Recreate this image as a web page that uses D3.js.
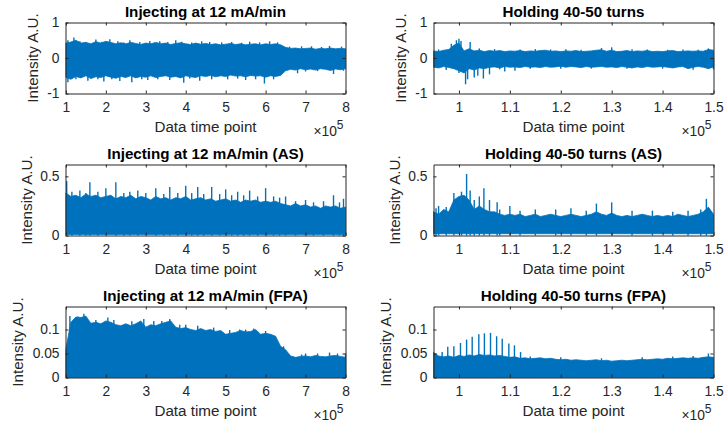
<!DOCTYPE html>
<html>
<head>
<meta charset="utf-8">
<script src="https://cdn.jsdelivr.net/npm/d3@7"></script>
<style>
  body { margin: 0; background: #fff; }
  svg { display: block; }
</style>
</head>
<body>
<svg id="chart" width="725" height="425"></svg>
<script>
// x values are in units of 1e5 data time points (as MATLAB shows them)
const injTicks = [1, 2, 3, 4, 5, 6, 7, 8];
const holdTicks = [1, 1.1, 1.2, 1.3, 1.4, 1.5];
const rawTicks = [-1, 0, 1];
const asTicks = [0, 0.5];
const fpaTicks = [0, 0.05, 0.1];

// envelope of the dense signal, injection panels sampled every 0.125, holding every 0.01
const injRawUpper = [0.42,0.45,0.5,0.42,0.44,0.4,0.46,0.42,0.47,0.44,
  0.4,0.43,0.4,0.44,0.41,0.38,0.42,0.4,0.44,0.4,
  0.42,0.38,0.41,0.43,0.4,0.38,0.42,0.39,0.41,0.38,
  0.4,0.37,0.39,0.41,0.38,0.4,0.37,0.39,0.4,0.37,
  0.4,0.38,0.4,0.37,0.3,0.27,0.28,0.26,0.27,0.28,
  0.25,0.27,0.26,0.28,0.26,0.27,0.26];
const injRawLower = [-0.55,-0.6,-0.52,-0.56,-0.5,-0.58,-0.53,-0.55,-0.5,-0.54,
  -0.57,-0.52,-0.55,-0.5,-0.56,-0.52,-0.54,-0.5,-0.55,-0.52,
  -0.5,-0.54,-0.52,-0.56,-0.5,-0.53,-0.55,-0.5,-0.52,-0.49,
  -0.53,-0.5,-0.52,-0.48,-0.51,-0.5,-0.53,-0.49,-0.51,-0.5,
  -0.54,-0.5,-0.52,-0.49,-0.36,-0.32,-0.34,-0.3,-0.33,-0.31,
  -0.34,-0.3,-0.32,-0.35,-0.31,-0.33,-0.3];
const injRawSpikes = [[1.2,0.58],[1.05,0.5],[1.75,0.52],[2.1,0.53],[2.6,0.5],[3.1,0.48],[3.75,0.5],
  [4.4,0.47],[5.6,0.46],[6.1,0.47],[6.9,0.33],[7.6,0.34],
  [1.35,0.47],[1.5,0.45],[1.9,0.46],[2.3,0.47],[2.45,0.44],[2.85,0.45],[3.35,0.47],[3.55,0.45],
  [3.9,0.46],[4.15,0.44],[4.6,0.45],[4.9,0.44],[5.15,0.45],[5.4,0.43],[5.85,0.44],[6.3,0.44],
  [6.6,0.32],[7.15,0.33],[7.4,0.31],[7.9,0.32],
  [1.05,-0.68],[1.55,-0.64],[1.95,-0.66],[2.35,-0.65],[2.65,-0.68],[3.05,-0.62],[3.95,-0.7],
  [4.35,-0.64],[5.05,-0.6],[5.5,-0.62],[5.97,-0.72],[6.8,-0.43],[7.7,-0.45],
  [1.25,-0.6],[1.8,-0.6],[2.15,-0.6],[2.9,-0.6],[3.3,-0.6],[3.6,-0.62],[4.1,-0.58],[4.65,-0.6],
  [5.3,-0.58],[5.75,-0.6],[6.2,-0.6],[7.0,-0.38],[7.3,-0.37],[7.95,-0.36]];

const holdRawUpper = [0.2,0.18,0.22,0.24,0.36,0.42,0.2,0.26,0.2,0.22,
  0.18,0.21,0.19,0.21,0.18,0.2,0.19,0.21,0.18,0.2,
  0.19,0.21,0.22,0.19,0.2,0.18,0.2,0.19,0.21,0.18,
  0.19,0.2,0.22,0.23,0.19,0.22,0.18,0.19,0.21,0.18,
  0.2,0.19,0.21,0.18,0.19,0.18,0.2,0.21,0.18,0.19,
  0.2,0.19,0.2,0.19,0.24,0.22];
const holdRawLower = [-0.26,-0.28,-0.24,-0.27,-0.3,-0.36,-0.42,-0.3,-0.34,-0.28,
  -0.3,-0.26,-0.25,-0.28,-0.24,-0.26,-0.25,-0.27,-0.24,-0.26,
  -0.25,-0.27,-0.24,-0.26,-0.25,-0.23,-0.26,-0.24,-0.25,-0.27,
  -0.24,-0.26,-0.25,-0.24,-0.26,-0.25,-0.27,-0.24,-0.26,-0.28,
  -0.25,-0.27,-0.24,-0.26,-0.25,-0.24,-0.26,-0.28,-0.25,-0.24,
  -0.3,-0.26,-0.24,-0.26,-0.3,-0.25];
const holdRawSpikes = [[0.985,0.4],[0.995,0.5],[1.0,0.54],[1.004,0.48],[1.022,0.45],[1.28,0.28],
  [1.3,0.3],[1.49,0.27],
  [0.96,0.24],[1.04,0.27],[1.07,0.25],[1.12,0.24],[1.15,0.25],[1.18,0.24],[1.21,0.25],
  [1.24,0.23],[1.34,0.25],[1.37,0.24],[1.41,0.23],[1.44,0.24],[1.47,0.23],
  [1.013,-0.74],[1.017,-0.6],[1.03,-0.55],[1.037,-0.5],[1.048,-0.58],
  [1.06,-0.46],[1.09,-0.38],[1.11,-0.36],[0.975,-0.34],
  [1.0,-0.42],[1.08,-0.32],[1.14,-0.3],[1.2,-0.3],[1.26,-0.3],[1.33,-0.3],[1.4,-0.3],
  [1.46,-0.33],[1.5,-0.32]];

const injAsUpper = [0.36,0.33,0.34,0.32,0.35,0.33,0.34,0.32,0.33,0.34,
  0.31,0.33,0.32,0.34,0.31,0.33,0.32,0.3,0.33,0.31,
  0.32,0.3,0.32,0.31,0.33,0.3,0.31,0.32,0.3,0.31,
  0.29,0.3,0.31,0.29,0.3,0.28,0.3,0.29,0.3,0.28,
  0.29,0.28,0.29,0.27,0.26,0.25,0.27,0.25,0.26,0.24,
  0.25,0.23,0.25,0.24,0.25,0.23,0.24];
const injAsLower = 0.008;
const injAsSpikes = [[1.02,0.46],[1.35,0.38],[1.6,0.45],[2.0,0.4],[2.25,0.45],[2.8,0.38],[3.25,0.4],
  [3.6,0.41],[4.0,0.42],[4.3,0.41],[4.65,0.41],[5.0,0.39],[5.3,0.37],[5.6,0.38],[6.0,0.4],
  [6.5,0.33],[7.0,0.3],[7.7,0.34],[7.95,0.31],
  [1.15,0.37],[1.5,0.36],[1.8,0.37],[2.45,0.36],[2.6,0.37],[3.0,0.36],[3.45,0.35],[3.8,0.36],
  [4.15,0.36],[4.45,0.35],[4.85,0.35],[5.15,0.34],[5.45,0.34],[5.8,0.33],[6.2,0.33],
  [6.35,0.32],[6.75,0.29],[7.2,0.28],[7.45,0.29],[7.85,0.28]];

const holdAsUpper = [0.2,0.18,0.22,0.2,0.3,0.33,0.34,0.3,0.22,0.25,
  0.22,0.2,0.2,0.18,0.17,0.18,0.17,0.18,0.16,0.17,
  0.18,0.16,0.17,0.18,0.17,0.16,0.17,0.18,0.17,0.16,
  0.17,0.18,0.2,0.18,0.17,0.19,0.17,0.16,0.17,0.16,
  0.17,0.18,0.17,0.16,0.17,0.16,0.17,0.16,0.18,0.17,
  0.16,0.17,0.18,0.2,0.24,0.18];
const holdAsLower = 0.015;
const holdAsSpikes = [[0.96,0.25],[0.99,0.36],[1.005,0.37],[1.015,0.52],[1.022,0.38],[1.04,0.33],
  [1.049,0.4],[1.06,0.3],[1.075,0.28],[1.1,0.25],[1.19,0.22],[1.22,0.23],[1.27,0.27],
  [1.3,0.28],[1.486,0.31],
  [0.955,0.23],[0.975,0.24],[1.03,0.3],[1.08,0.22],[1.12,0.21],[1.15,0.22],[1.25,0.21],
  [1.34,0.21],[1.38,0.21],[1.42,0.2],[1.45,0.21],[1.475,0.22]];

const injFpaUpper = [0.06,0.115,0.126,0.125,0.128,0.113,0.115,0.112,0.118,0.115,
  0.11,0.108,0.112,0.108,0.112,0.118,0.105,0.11,0.108,0.112,
  0.115,0.118,0.105,0.102,0.104,0.1,0.098,0.102,0.098,0.1,
  0.096,0.098,0.09,0.092,0.094,0.098,0.095,0.096,0.1,0.09,
  0.092,0.09,0.086,0.065,0.058,0.045,0.042,0.044,0.045,0.043,
  0.046,0.044,0.043,0.045,0.046,0.044,0.042];
const injFpaSpikes = [[1.1,0.128],[1.45,0.133],[2.05,0.125],[2.95,0.122],[3.6,0.122],[4.0,0.11],
  [5.35,0.1],[5.7,0.102],[7.0,0.05],[7.6,0.052],[8.0,0.05],
  [1.3,0.127],[1.75,0.12],[2.2,0.12],[2.65,0.117],[3.2,0.118],[3.4,0.118],[3.85,0.11],
  [4.3,0.108],[4.7,0.104],[5.1,0.099],[5.5,0.1],[6.0,0.097],[6.3,0.07],[6.45,0.065],
  [6.9,0.048],[7.3,0.05],[7.8,0.05]];

const holdFpaUpper = [0.052,0.045,0.043,0.045,0.042,0.046,0.044,0.047,0.045,0.048,
  0.046,0.047,0.045,0.046,0.044,0.042,0.043,0.04,0.041,0.039,
  0.04,0.041,0.039,0.04,0.038,0.037,0.038,0.036,0.037,0.036,
  0.035,0.036,0.037,0.035,0.036,0.034,0.035,0.036,0.035,0.036,
  0.037,0.038,0.037,0.038,0.039,0.038,0.04,0.039,0.04,0.041,
  0.04,0.041,0.04,0.042,0.043,0.042];
const holdFpaSpikes = [[0.967,0.053],[0.978,0.064],[0.99,0.065],[1.003,0.072],[1.015,0.079],
  [1.026,0.085],[1.039,0.09],[1.05,0.092],[1.062,0.093],[1.074,0.086],[1.085,0.081],
  [1.098,0.071],[1.109,0.067],[1.121,0.053],[1.49,0.05],
  [0.955,0.05],[1.14,0.044],[1.2,0.042],[1.28,0.04],[1.36,0.042],[1.42,0.044],[1.46,0.045]];

const FONT = '"Liberation Sans", Arial, Helvetica, sans-serif';
const BLUE = "#0072bd";
const AXIS = "#262626";

const W = 280, H = 71;
const colLeft = [65.5, 433.5];
const rowTop = [22.5, 164.5, 306.5];
const yLabelGap = [27.5, 34, 43];

const injX = d3.range(57).map(i => 1 + i * 0.125);
const holdX = d3.range(56).map(i => 0.95 + i * 0.01);

const panels = [
  { title: "Injecting at 12 mA/min", col: 0, row: 0, xDomain: [0.99, 8], xTicks: injTicks,
    yDomain: [-1, 1], yTicks: rawTicks, xs: injX, upper: injRawUpper, lower: injRawLower, spikes: injRawSpikes },
  { title: "Holding 40-50 turns", col: 1, row: 0, xDomain: [0.95, 1.5], xTicks: holdTicks,
    yDomain: [-1, 1], yTicks: rawTicks, xs: holdX, upper: holdRawUpper, lower: holdRawLower, spikes: holdRawSpikes },
  { title: "Injecting at 12 mA/min (AS)", col: 0, row: 1, xDomain: [0.99, 8], xTicks: injTicks,
    yDomain: [0, 0.6], yTicks: asTicks, xs: injX, upper: injAsUpper, lower: injAsLower, spikes: injAsSpikes },
  { title: "Holding 40-50 turns (AS)", col: 1, row: 1, xDomain: [0.95, 1.5], xTicks: holdTicks,
    yDomain: [0, 0.6], yTicks: asTicks, xs: holdX, upper: holdAsUpper, lower: holdAsLower, spikes: holdAsSpikes },
  { title: "Injecting at 12 mA/min (FPA)", col: 0, row: 2, xDomain: [0.99, 8], xTicks: injTicks,
    yDomain: [0, 0.148], yTicks: fpaTicks, xs: injX, upper: injFpaUpper, lower: 0, spikes: injFpaSpikes },
  { title: "Holding 40-50 turns (FPA)", col: 1, row: 2, xDomain: [0.95, 1.5], xTicks: holdTicks,
    yDomain: [0, 0.148], yTicks: fpaTicks, xs: holdX, upper: holdFpaUpper, lower: 0, spikes: holdFpaSpikes }
];

const svg = d3.select("#chart");
svg.append("rect").attr("width", 725).attr("height", 425).attr("fill", "#fff");

function styleAxis(sel) {
  sel.selectAll(".domain").attr("stroke", AXIS).attr("stroke-width", 1);
  sel.selectAll(".tick line").attr("stroke", AXIS);
  sel.selectAll(".tick text").attr("fill", AXIS).style("font-family", FONT).style("font-size", "13.8px");
}

function drawPanel(p) {
  const left = colLeft[p.col], top = rowTop[p.row];
  const x = d3.scaleLinear().domain(p.xDomain).range([left, left + W]);
  const y = d3.scaleLinear().domain(p.yDomain).range([top + H, top]);
  const g = svg.append("g");

  const pts = p.xs.map((v, i) => ({
    x: v,
    hi: p.upper[i],
    lo: Array.isArray(p.lower) ? p.lower[i] : p.lower
  }));

  const area = d3.area()
    .x(d => x(d.x))
    .y0(d => y(d.lo))
    .y1(d => y(d.hi));

  // dense signal band
  g.append("path")
    .datum(pts)
    .attr("d", area)
    .attr("fill", BLUE)
    .attr("stroke", BLUE)
    .attr("stroke-width", 0.8);

  // spikes sticking out of the band
  g.selectAll("line.spike")
    .data(p.spikes)
    .enter().append("line")
    .attr("class", "spike")
    .attr("x1", d => x(d[0]))
    .attr("x2", d => x(d[0]))
    .attr("y1", y(Math.max(0, p.yDomain[0])))
    .attr("y2", d => y(d[1]))
    .attr("stroke", BLUE)
    .attr("stroke-width", 1.4);

  const fmt = d => String(+d.toFixed(2));

  // axes, ticks pointing inward like MATLAB
  g.append("g").attr("transform", `translate(0,${top + H})`)
    .call(d3.axisBottom(x).tickValues(p.xTicks).tickFormat(fmt).tickSize(-3).tickSizeOuter(0).tickPadding(9))
    .call(styleAxis);
  g.append("g").attr("transform", `translate(0,${top})`)
    .call(d3.axisTop(x).tickValues(p.xTicks).tickFormat("").tickSize(-3).tickSizeOuter(0))
    .call(styleAxis);
  g.append("g").attr("transform", `translate(${left},0)`)
    .call(d3.axisLeft(y).tickValues(p.yTicks).tickFormat(fmt).tickSize(-3).tickSizeOuter(0).tickPadding(6))
    .call(styleAxis);
  g.append("g").attr("transform", `translate(${left + W},0)`)
    .call(d3.axisRight(y).tickValues(p.yTicks).tickFormat("").tickSize(-3).tickSizeOuter(0))
    .call(styleAxis);

  // title
  g.append("text")
    .attr("x", left + W / 2)
    .attr("y", top - 5.5)
    .attr("text-anchor", "middle")
    .style("font-family", FONT)
    .style("font-size", "15.2px")
    .style("font-weight", "bold")
    .attr("fill", "#000")
    .text(p.title);

  // x label
  g.append("text")
    .attr("x", left + W / 2)
    .attr("y", top + H + 38.5)
    .attr("text-anchor", "middle")
    .style("font-family", FONT)
    .style("font-size", "15.2px")
    .attr("fill", AXIS)
    .text("Data time point");

  // exponent label
  const expo = g.append("text")
    .attr("x", left + W - 2)
    .attr("y", top + H + 42)
    .attr("text-anchor", "end")
    .style("font-family", FONT)
    .style("font-size", "13.8px")
    .attr("fill", AXIS);
  expo.append("tspan").text("\u00d710");
  expo.append("tspan").attr("dy", -7).style("font-size", "12px").text("5");

  // y label
  g.append("text")
    .attr("transform", `translate(${left - yLabelGap[p.row]},${top + H / 2}) rotate(-90)`)
    .attr("text-anchor", "middle")
    .style("font-family", FONT)
    .style("font-size", "15.2px")
    .attr("fill", AXIS)
    .text("Intensity A.U.");
}

panels.forEach(drawPanel);
</script>
</body>
</html>
